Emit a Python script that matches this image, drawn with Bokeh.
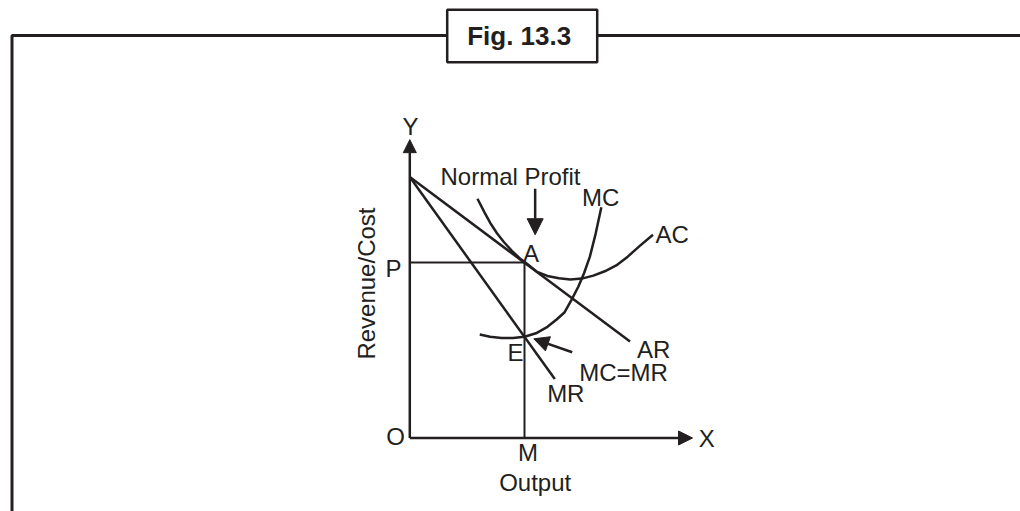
from bokeh.plotting import figure
from bokeh.models import Range1d, Arrow, NormalHead, ColumnDataSource
from bokeh.core.properties import value
from bokeh.embed import file_html
from bokeh.resources import INLINE

# ---------------- data (output q, revenue/cost p) ----------------
ar_q = [0.0, 19.2]
ar_p = [8.92, 3.30]
mr_q = [0.0, 12.64]
mr_p = [8.92, 2.02]
ac_q = [5.9, 6.5, 7.0, 7.6, 8.2, 8.9, 9.6, 10.3, 11.1, 12.0, 13.0, 14.0, 15.0, 16.0, 17.0, 18.0, 19.0, 20.0, 21.2]
ac_p = [8.18, 7.72, 7.36, 7.00, 6.70, 6.40, 6.14, 5.93, 5.68, 5.54, 5.46, 5.42, 5.45, 5.55, 5.70, 5.90, 6.20, 6.55, 6.95]
mc_q = [6.1, 7.0, 8.0, 9.0, 10.0, 11.0, 12.0, 12.8, 13.5, 14.1, 14.7, 15.2, 15.7, 16.2, 16.7]
mc_p = [3.54, 3.46, 3.42, 3.42, 3.46, 3.58, 3.80, 4.05, 4.30, 4.72, 5.18, 5.64, 6.20, 6.98, 7.89]
eq_q = 10.0      # M
eq_price = 6.0   # P (point A)
eq_mc = 3.45     # E
x_axis_end = 24.65
y_axis_end = 10.2

label_text = ["Y", "Normal Profit", "MC", "AC", "A", "P", "O", "M", "Output", "X",
              "E", "AR", "MC=MR", "MR"]
label_q = [0.06, 8.78, 16.63, 22.88, 10.57, -1.42, -1.25, 10.3, 10.93, 25.9,
           9.22, 21.27, 18.63, 13.6]
label_p = [10.65, 8.94, 8.22, 6.97, 6.30, 5.78, 0.05, -0.51, -1.51, 0.0,
           2.92, 3.01, 2.25, 1.53]
y_title = "Revenue/Cost"
fig_title = "Fig. 13.3"

# ---------------- layout helpers (page pixels -> data) ----------------
W, H = 1020, 511
OX, OY = 409.3, 437.5      # page pixel of origin O
SX, SY = 11.47, 29.25      # pixels per unit


def X(px):
    return (px - OX) / SX


def Y(py):
    return (OY - py) / SY


INK = "#231f20"
FONT = "Liberation Sans"

p = figure(width=W, height=H, output_backend="svg", toolbar_location=None,
           x_range=Range1d(X(0), X(W)), y_range=Range1d(Y(H), Y(0)),
           x_axis_location=None, y_axis_location=None, min_border=0)
p.grid.visible = False
p.outline_line_color = None
p.background_fill_color = "white"
p.border_fill_color = "white"

# frame
p.line([X(11.5), X(11.5), X(1040)], [Y(560), Y(35), Y(35)], line_width=3, line_color=INK)
# title box
p.quad(left=[X(446.7)], right=[X(596.7)], top=[Y(9.3)], bottom=[Y(61.7)],
       fill_color="white", line_color=INK, line_width=2.5)
p.text(x=[X(518.7)], y=[Y(35.5)], text=[fig_title], text_font=value(FONT),
       text_font_size="26px", text_font_style="bold", text_color=INK,
       text_align="center", text_baseline="middle")

# axes with arrows
p.add_layout(Arrow(end=NormalHead(size=13, fill_color=INK, line_color=INK),
                   x_start=0, y_start=0, x_end=0, y_end=y_axis_end,
                   line_width=2.5, line_color=INK))
p.add_layout(Arrow(end=NormalHead(size=14, fill_color=INK, line_color=INK),
                   x_start=0, y_start=0, x_end=x_axis_end, y_end=0,
                   line_width=2.5, line_color=INK))

# P and M guide lines
p.line([0, eq_q], [eq_price, eq_price], line_width=2, line_color=INK)
p.line([eq_q, eq_q], [0, eq_price], line_width=2, line_color=INK)

# curves
p.line(ar_q, ar_p, line_width=2.5, line_color=INK)
p.line(mr_q, mr_p, line_width=2.5, line_color=INK)
p.line(ac_q, ac_p, line_width=2.5, line_color=INK)
p.line(mc_q, mc_p, line_width=2.5, line_color=INK)

# pointer arrows
p.add_layout(Arrow(end=NormalHead(size=16, fill_color=INK, line_color=INK),
                   x_start=10.93, y_start=8.52, x_end=10.93, y_end=6.95,
                   line_width=2.5, line_color=INK))
p.add_layout(Arrow(end=NormalHead(size=15, fill_color=INK, line_color=INK),
                   x_start=14.16, y_start=2.93, x_end=10.81, y_end=3.39,
                   line_width=2.5, line_color=INK))

# labels
src = ColumnDataSource(dict(x=label_q, y=label_p, t=label_text))
p.text(x="x", y="y", text="t", source=src, text_font=value(FONT),
       text_font_size="24px", text_color=INK, text_align="center",
       text_baseline="middle")
p.text(x=[-3.78], y=[5.28], text=[y_title], angle=1.5708, text_font=value(FONT),
       text_font_size="24px", text_color=INK, text_align="center",
       text_baseline="middle")

open("out.html", "w").write(file_html(p, INLINE))
